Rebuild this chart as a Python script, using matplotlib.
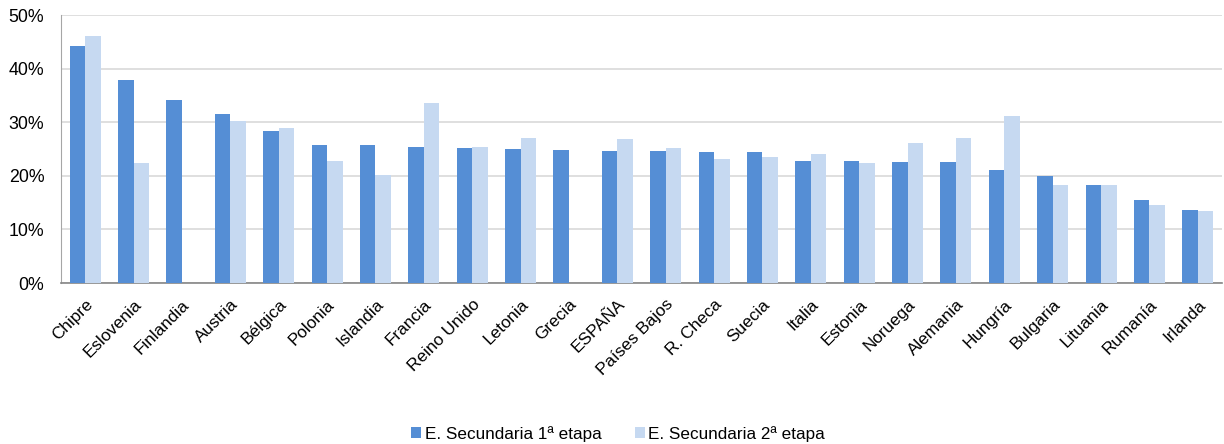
import matplotlib
matplotlib.use("Agg")
import matplotlib.pyplot as plt
import numpy as np
from matplotlib.ticker import FuncFormatter

plt.rcParams['font.family'] = ['Liberation Sans', 'DejaVu Sans']

countries = ["Chipre", "Eslovenia", "Finlandia", "Austria", "Bélgica", "Polonia",
             "Islandia", "Francia", "Reino Unido", "Letonia", "Grecia", "ESPAÑA",
             "Países Bajos", "R. Checa", "Suecia", "Italia", "Estonia", "Noruega",
             "Alemania", "Hungría", "Bulgaria", "Lituania", "Rumanía", "Irlanda"]
etapa1 = [44.2, 37.9, 34.2, 31.6, 28.3, 25.7, 25.7, 25.4, 25.2, 25.0, 24.8, 24.7,
          24.7, 24.5, 24.4, 22.8, 22.8, 22.6, 22.5, 21.0, 20.0, 18.3, 15.5, 13.7]
etapa2 = [46.0, 22.3, np.nan, 30.3, 29.0, 22.8, 20.1, 33.5, 25.4, 27.1, np.nan, 26.8,
          25.2, 23.1, 23.6, 24.0, 22.3, 26.2, 27.1, 31.2, 18.2, 18.3, 14.6, 13.5]
series_names = ["E. Secundaria 1ª etapa", "E. Secundaria 2ª etapa"]
colors = ["#558ED5", "#C6D9F1"]

fig = plt.figure(figsize=(12.24, 4.44), dpi=100)
ax = fig.add_axes([61/1224, 1-283/444, (1222-61)/1224, (283-15)/444])

x = np.arange(len(countries))
w = 0.32
ax.bar(x - w/2, etapa1, w, color=colors[0], label=series_names[0], zorder=3)
ax.bar(x + w/2, etapa2, w, color=colors[1], label=series_names[1], zorder=3)

ax.set_xlim(-0.5, len(countries) - 0.5)
ax.set_ylim(0, 50)
ax.set_yticks(np.arange(0, 51, 10))
ax.yaxis.set_major_formatter(FuncFormatter(lambda v, p: f"{int(v)}%"))
ax.yaxis.grid(True, color="#D9D9D9", linewidth=1.2, zorder=0)
ax.set_axisbelow(True)
ax.tick_params(axis='y', length=0, labelsize=12.8, pad=12, colors="#000000")
ax.tick_params(axis='x', length=0, labelsize=12.3, pad=10)
ax.set_xticks(x)
ax.set_xticklabels(countries, rotation=45, ha='right', rotation_mode='anchor')

for s in ["top", "right"]:
    ax.spines[s].set_visible(False)
ax.spines["left"].set_color("#A6A6A6")
ax.spines["bottom"].set_color("#868686")
ax.spines["bottom"].set_linewidth(1.2)

fig.legend(loc="lower center", bbox_to_anchor=(0.505, -0.03), ncol=2, frameon=False,
           fontsize=12.3, handlelength=0.6, handleheight=0.6, handletextpad=0.2,
           columnspacing=1.95)

fig.savefig("out.png", dpi=100)
